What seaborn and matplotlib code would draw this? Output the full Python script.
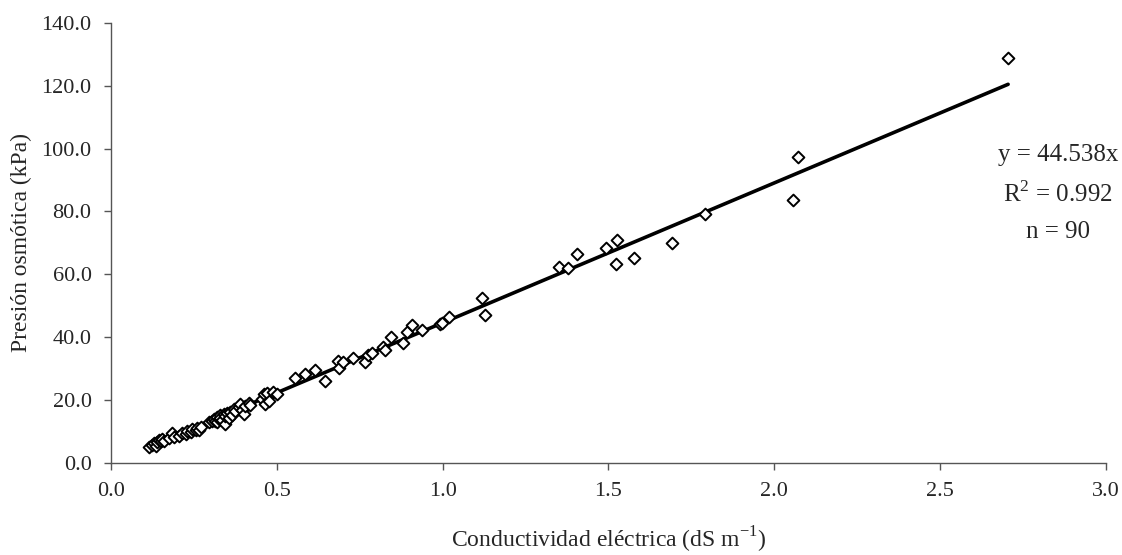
import numpy as np
import pandas as pd
import matplotlib
matplotlib.use("Agg")
import matplotlib.pyplot as plt
import seaborn as sns

# Conductividad eléctrica (dS/m) y presión osmótica (kPa)
ce = [0.115, 0.125, 0.13, 0.135, 0.14, 0.145, 0.15, 0.155, 0.16, 0.175,
      0.185, 0.19, 0.205, 0.215, 0.225, 0.23, 0.24, 0.245, 0.255, 0.26,
      0.265, 0.27, 0.295, 0.305, 0.31, 0.315, 0.32, 0.32, 0.325, 0.33,
      0.33, 0.335, 0.34, 0.345, 0.345, 0.35, 0.355, 0.36, 0.365, 0.37,
      0.375, 0.385, 0.39, 0.395, 0.40, 0.405, 0.415, 0.42, 0.455, 0.46,
      0.465, 0.47, 0.475, 0.49, 0.50,
      0.555, 0.585, 0.615, 0.646, 0.686, 0.689, 0.701, 0.731, 0.766, 0.776,
      0.786, 0.821, 0.827, 0.844, 0.882, 0.892, 0.907, 0.937, 0.992, 0.997,
      1.02,
      1.118, 1.128, 1.351, 1.378, 1.405, 1.493, 1.525, 1.523, 1.576, 1.693,
      1.79, 2.055, 2.07, 2.705]
po = [5.0, 5.6, 6.2, 5.4, 6.5, 7.2, 6.8, 7.4, 7.0, 8.0,
      9.6, 8.2, 8.6, 9.3, 9.0, 10.2, 9.8, 10.6, 10.3, 11.0,
      10.5, 11.4, 12.8, 13.2, 14.0, 13.4, 14.6, 12.9, 13.8, 15.1,
      14.2, 13.5, 15.6, 12.2, 14.8, 15.9, 14.1, 16.2, 15.3, 17.0,
      16.4, 17.6, 18.6, 16.8, 15.6, 18.2, 18.9, 18.4, 20.4, 21.8,
      18.6, 22.3, 19.8, 22.5, 22.0,
      26.9, 28.4, 29.5, 26.1, 32.5, 30.0, 32.1, 33.2, 32.1, 34.3,
      34.8, 36.9, 35.9, 40.1, 38.0, 41.7, 44.0, 42.2, 44.1, 44.5,
      46.5,
      52.3, 47.0, 62.2, 62.0, 66.6, 68.2, 70.9, 63.2, 65.3, 69.8,
      79.3, 83.6, 97.4, 128.9]

pendiente = 44.538
ecuacion = ["y = 44.538x", "R$^2$ = 0.992", "n = 90"]
xticks = [0.0, 0.5, 1.0, 1.5, 2.0, 2.5, 3.0]
yticks = [0, 20, 40, 60, 80, 100, 120, 140]

df = pd.DataFrame({"ce": ce, "po": po})
linea = pd.DataFrame({"ce": [df["ce"].min(), df["ce"].max()]})
linea["po"] = pendiente * linea["ce"]

sns.set_theme(style="ticks")
plt.rcParams["font.family"] = ["Liberation Serif", "DejaVu Serif"]
plt.rcParams["mathtext.fontset"] = "custom"
plt.rcParams["mathtext.rm"] = "Liberation Serif"

fig = plt.figure(figsize=(11.22, 5.55), dpi=100)
ax = fig.add_axes([0.0989, 0.1663, 0.8868, 0.7923])

sns.scatterplot(data=df, x="ce", y="po", marker="D", s=36, facecolor="white",
                edgecolor="black", linewidth=1.4, ax=ax, zorder=3)
sns.lineplot(data=linea, x="ce", y="po", color="black", linewidth=2.6, ax=ax, zorder=2)

ax.set_xlim(0, 3.0)
ax.set_ylim(0, 140)
ax.set_xticks(xticks)
ax.set_yticks(yticks)
ax.set_xticklabels([f"{v:.1f}" for v in xticks])
ax.set_yticklabels([f"{v:.1f}" for v in yticks])
ax.tick_params(direction="out", length=5, width=1, color="#555555",
               labelsize=16, pad=9)
for lado in ["top", "right"]:
    ax.spines[lado].set_visible(False)
for lado in ["left", "bottom"]:
    ax.spines[lado].set_color("#555555")
    ax.spines[lado].set_linewidth(1)

ax.set_xlabel("Conductividad eléctrica (dS m$^{\\mathrm{-1}}$)", fontsize=17, labelpad=17)
ax.set_ylabel("Presión osmótica (kPa)", fontsize=17, labelpad=7)

for i, t in enumerate(ecuacion):
    ax.text(2.855, 97.9 - i * 12.3, t, fontsize=18, ha="center", va="center")

fig.savefig("out.png", dpi=100)
